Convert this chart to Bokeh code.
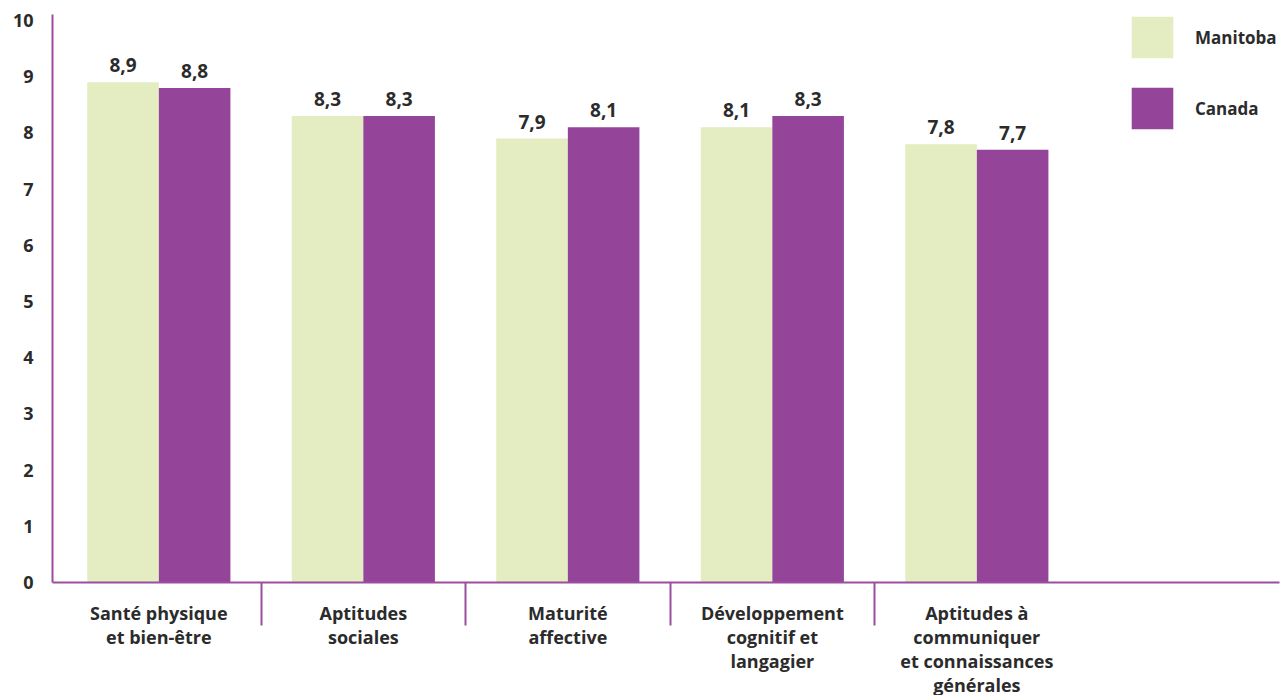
from bokeh.plotting import figure
from bokeh.models import ColumnDataSource, FixedTicker, LabelSet, Legend, LegendItem, Range1d
from bokeh.core.properties import value
from bokeh.embed import file_html
from bokeh.resources import INLINE

# Domain scores (0-10) by region
categories = [
    "Santé physique\net bien-être",
    "Aptitudes\nsociales",
    "Maturité\naffective",
    "Développement\ncognitif et\nlangagier",
    "Aptitudes à\ncommuniquer\net connaissances\ngénérales",
]
manitoba = [8.9, 8.3, 7.9, 8.1, 7.8]
canada = [8.8, 8.3, 8.1, 8.3, 7.7]
series_names = ["Manitoba", "Canada"]
y_ticks = [0, 1, 2, 3, 4, 5, 6, 7, 8, 9, 10]

GREEN = "#e3edc1"
PURPLE = "#94459a"
AXIS = "#9b4ea1"
TEXT = "#2b2b2b"
FONT = "Open Sans"

n = len(categories)
centers = [i + 0.5 for i in range(n)]
bar_w = 0.35
x_man = [c - bar_w / 2 for c in centers]
x_can = [c + bar_w / 2 for c in centers]

def fmt(v):
    return f"{v:.1f}".replace(".", ",")

src_man = ColumnDataSource(dict(x=x_man, top=manitoba, label=[fmt(v) for v in manitoba]))
src_can = ColumnDataSource(dict(x=x_can, top=canada, label=[fmt(v) for v in canada]))

p = figure(
    frame_width=1227, frame_height=568,
    x_range=Range1d(-0.02, n + 0.98), y_range=Range1d(0, 10.107),
    output_backend="svg", toolbar_location=None,
    min_border_left=52, min_border_right=1, min_border_top=14, min_border_bottom=113,
)
p.outline_line_color = None
p.xgrid.visible = False
p.ygrid.visible = False
p.background_fill_color = "white"
p.border_fill_color = "white"

r_man = p.vbar(x="x", top="top", width=bar_w, source=src_man, fill_color=GREEN, line_color=None)
r_can = p.vbar(x="x", top="top", width=bar_w, source=src_can, fill_color=PURPLE, line_color=None)

for src in (src_man, src_can):
    p.add_layout(LabelSet(
        x="x", y="top", text="label", source=src,
        text_align="center", text_baseline="alphabetic", y_offset=10,
        text_font=value(FONT), text_font_style="bold", text_font_size="19px", text_color=TEXT,
    ))

# Y axis
p.yaxis.ticker = FixedTicker(ticks=y_ticks, minor_ticks=[])
p.yaxis.axis_line_color = AXIS
p.yaxis.axis_line_width = 2
p.yaxis.major_tick_out = 0
p.yaxis.major_tick_in = 0
p.yaxis.minor_tick_line_color = None
p.yaxis.major_label_standoff = 19
p.yaxis.major_label_text_font = FONT
p.yaxis.major_label_text_font_style = "bold"
p.yaxis.major_label_text_font_size = "18px"
p.yaxis.major_label_text_color = TEXT

# X axis: category names centred on groups, separators between groups
p.xaxis.ticker = FixedTicker(ticks=centers, minor_ticks=[i for i in range(1, n)])
p.xaxis.major_label_overrides = {c: lab for c, lab in zip(centers, categories)}
p.xaxis.axis_line_color = AXIS
p.xaxis.axis_line_width = 2
p.xaxis.major_tick_out = 0
p.xaxis.major_tick_in = 0
p.xaxis.minor_tick_out = 43
p.xaxis.minor_tick_in = 0
p.xaxis.minor_tick_line_color = AXIS
p.xaxis.minor_tick_line_width = 2
# labels sit beside the separators rather than below them
p.xaxis.major_label_standoff = -25
p.xaxis.major_label_text_font = FONT
p.xaxis.major_label_text_font_style = "bold"
p.xaxis.major_label_text_font_size = "18px"
p.xaxis.major_label_text_color = TEXT
p.xaxis.major_label_text_line_height = 1.0

legend = Legend(
    items=[LegendItem(label=series_names[0], renderers=[r_man]),
           LegendItem(label=series_names[1], renderers=[r_can])],
    location=(1074, 448), orientation="vertical",
    glyph_width=52, glyph_height=52, label_height=52, spacing=19, padding=0, margin=0,
    label_standoff=17, border_line_color=None, background_fill_alpha=0,
    label_text_font=FONT, label_text_font_style="bold", label_text_font_size="17px",
    label_text_color=TEXT,
)
p.add_layout(legend)

open("out.html", "w").write(file_html(p, INLINE))
